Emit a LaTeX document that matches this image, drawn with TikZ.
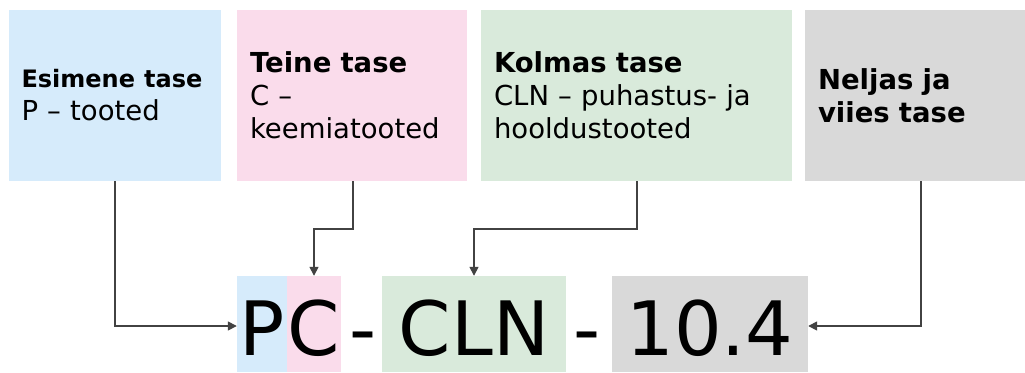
\documentclass[tikz,border=0pt]{standalone}
\usepackage{fontspec}
\setmainfont{DejaVu Sans}
\usetikzlibrary{arrows.meta}
\definecolor{cblue}{HTML}{D6EBFB}
\definecolor{cpink}{HTML}{FADCEB}
\definecolor{cgreen}{HTML}{D9EADB}
\definecolor{cgray}{HTML}{D9D9D9}
\definecolor{linecol}{HTML}{424242}
\begin{document}
\begin{tikzpicture}[x=1pt,y=-1pt,
  topbox/.style={minimum height=171pt, inner xsep=13pt, inner ysep=0pt, align=left,
    font=\fontsize{27.5}{33}\selectfont, anchor=center},
  codebox/.style={minimum height=96pt, inner xsep=0pt, inner ysep=0pt,
    text height=79pt, text depth=17pt, font=\fontsize{75}{80}\selectfont, anchor=center},
  conn/.style={draw=linecol, line width=1.6pt, -{Triangle[length=9pt,width=9pt]}}]
\useasboundingbox (0,0) rectangle (1025,372);
% top boxes
\node[topbox, fill=cblue, minimum width=212pt, text width=187pt, inner xsep=12.5pt] (b1) at (115,95.5)
  {{\fontsize{24}{33}\selectfont\textbf{Esimene tase}}\\P – tooted};
\node[topbox, fill=cpink, minimum width=230pt, text width=204pt] (b2) at (352,95.5)
  {\textbf{Teine tase}\\C –\\keemiatooted};
\node[topbox, fill=cgreen, minimum width=311pt, text width=285pt] (b3) at (636.5,95.5)
  {\textbf{Kolmas tase}\\CLN – puhastus- ja\\hooldustooted};
\node[topbox, fill=cgray, minimum width=220pt, text width=194pt] (b4) at (915,95.5)
  {\textbf{Neljas ja}\\\textbf{viies tase}};
% code boxes
\node[codebox, fill=cblue, minimum width=50pt] (P) at (262,324) {P};
\node[codebox, fill=cpink, minimum width=54pt] (C) at (314,324) {C};
\node[codebox] (d1) at (363,324) {-};
\node[codebox, fill=cgreen, minimum width=184pt] (CLN) at (474,324) {CLN};
\node[codebox] (d2) at (587,324) {-};
\node[codebox, fill=cgray, minimum width=196pt] (T) at (710,324) {10.4};
% connectors
\draw[conn] (b1.south) |- ([yshift=-2pt]P.west);
\draw[conn] ([xshift=1pt]b2.south) -- ++(0,48) -| (C.north);
\draw[conn] ([xshift=0.5pt]b3.south) -- ++(0,48) -| (CLN.north);
\draw[conn] ([xshift=6pt]b4.south) |- ([yshift=-2pt]T.east);
\end{tikzpicture}
\end{document}
